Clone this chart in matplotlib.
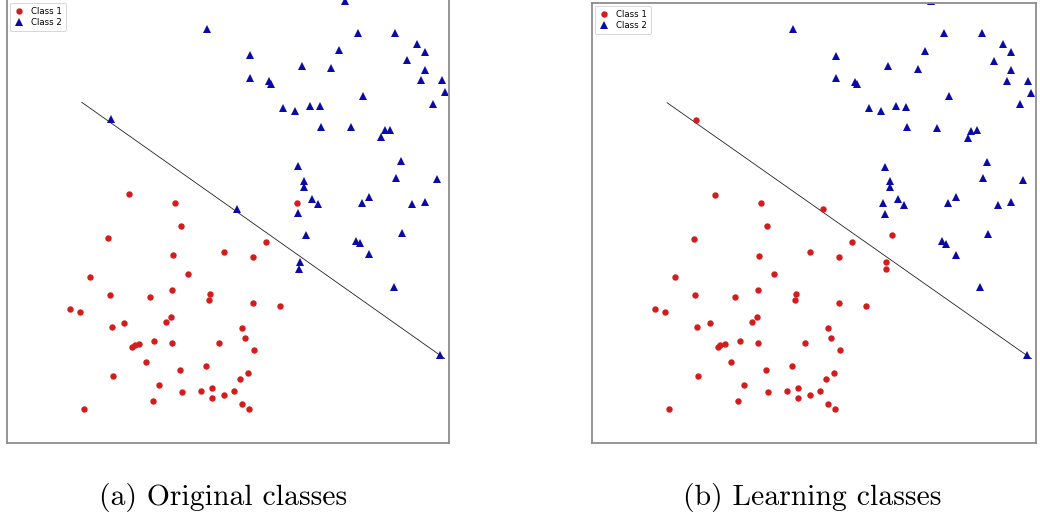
import matplotlib
matplotlib.use("Agg")
import matplotlib.pyplot as plt
import numpy as np

# Sample coordinates (shared by both panels)
x = [339, 201.3, 352, 390, 411.3, 419.3, 244.5, 333.3, 402, 296, 325.7, 419.3,
     244.5, 263.3, 265, 415.3, 436.3, 439.3, 357.3, 428, 277, 289, 304, 314.3,
     315.3, 345, 379.3, 384.7, 375.7, 292.7, 395.3, 390.7, 431.3, 298, 298,
     306.3, 312, 292.7, 356.3, 363.7, 406.3, 419.3, 350, 354, 363.7, 396.3,
     388.3, 434.7,
     291.3, 104.7, 230.7, 300, 294.3, 293.7,
     123, 169, 175, 259.7, 246.7, 102, 167, 218.3, 83.7, 182.3, 103.7, 143.3,
     165.7, 203.7, 203, 247.5, 273.7, 63, 73.3, 105.3, 118, 165, 160, 236.3,
     238.7, 126, 128.7, 133, 148, 166.3, 213.3, 248.3, 139.3, 106.7, 173.7,
     199.7, 242, 234, 152.3, 176, 195, 206.3, 206.3, 218.3, 227.7, 146.7,
     236.3, 242.7, 77.3]
y = [441.3, 413.7, 409.7, 409.7, 398.3, 390.3, 387, 392, 382, 376.3, 374, 372.3,
     364.3, 361, 358.3, 362, 362, 350, 346.7, 338.3, 334.3, 331.3, 336.7, 336,
     315.7, 315, 312, 312.7, 305, 276, 281, 264.7, 263, 261.3, 255.7,
     243.7, 238, 229, 239.7, 245.3, 238, 240.7, 201.3, 199, 188, 209,
     155.3, 87.3,
     239.7, 323, 233.5, 207.3, 180.7, 174,
     248, 239.7, 216.3, 200.3, 185.5, 204, 187, 190.3, 166, 168.3, 147.3, 145.7,
     153, 148.3, 142.7, 139.3, 136.3, 133.7, 130.3, 116, 120, 125.7, 120.7, 114.3,
     104.7, 96, 97.7, 98.7, 102, 99.7, 99.7, 92.3, 81, 66.7, 73,
     76.3, 69.7, 64, 57.7, 51, 52, 54.3, 44.7, 47.3, 52, 41.3,
     38.3, 33.3, 34]

# Class labels: true classes and the classes assigned after learning
original_labels = [2] * 48 + [1, 2, 2, 2, 2, 2] + [1] * 49
learned_labels = [2] * 48 + [2, 1, 1, 1, 1, 1] + [1] * 49

# Separating line endpoints
line_x = [75.3, 439.5]
line_y = [340, 84]

captions = ["(a) Original classes", "(b) Learning classes"]

RED = "#d41c1c"
BLUE = "#0a0aa6"

W, H = 1040, 521
fig = plt.figure(figsize=(W / 100, H / 100), dpi=100)

# Axes rectangles in pixels: left, bottom (from top), width, height
panels = [
    dict(left=6.7, bottom=442.7, width=442.6, height=443.0, ylim=(0, 442.5), top=False),
    dict(left=591.7, bottom=442.7, width=444.3, height=440.0, ylim=(0, 440), top=True),
]
label_sets = [original_labels, learned_labels]
caption_x = [223, 812]

xa = np.array(x)
ya = np.array(y)
for p, labels, cap, cx in zip(panels, label_sets, captions, caption_x):
    ax = fig.add_axes([p["left"] / W, (H - p["bottom"]) / H,
                       p["width"] / W, p["height"] / H])
    lab = np.array(labels)
    ax.plot(line_x, line_y, color="#222222", lw=0.6, zorder=1)
    ax.plot(xa[lab == 1], ya[lab == 1], "o", color=RED, ms=4.6,
            mew=0, linestyle="none", label="Class 1", zorder=2)
    ax.plot(xa[lab == 2], ya[lab == 2], "^", color=BLUE, ms=5.4,
            mew=0, linestyle="none", label="Class 2", zorder=2)
    ax.set_xlim(0, 444)
    ax.set_ylim(*p["ylim"])
    ax.set_xticks([])
    ax.set_yticks([])
    for name, sp in ax.spines.items():
        sp.set_color("#8c8c8c")
        sp.set_linewidth(1.3)
    if not p["top"]:
        ax.spines["top"].set_visible(False)
    leg = ax.legend(loc="upper left", fontsize=6.2, numpoints=1,
                    borderaxespad=0.35, handlelength=1.2, handletextpad=0.8,
                    labelspacing=0.3, borderpad=0.45, framealpha=1,
                    edgecolor="#d0d0d0", fancybox=True)
    leg.get_frame().set_linewidth(0.6)
    fig.text(cx / W, 1 - 497 / H, cap, ha="center", va="center",
             fontsize=21.4, family="cmr10")

fig.savefig("out.png", dpi=100)
